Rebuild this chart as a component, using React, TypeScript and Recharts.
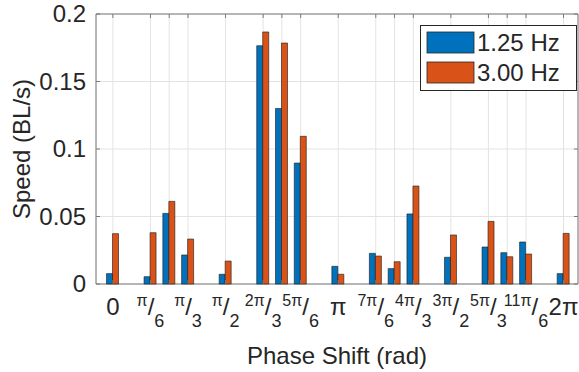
import React from 'react';
import { BarChart, Bar, XAxis, YAxis, CartesianGrid, Legend, ReferenceArea } from 'recharts';

// phase shift, in units of pi/12
const phase = [0, 2, 3, 4, 6, 8, 9, 10, 12, 14, 15, 16, 18, 20, 21, 22, 24];
const speed125 = [
  0.0077, 0.0054, 0.0523, 0.0215, 0.0072, 0.1765, 0.13, 0.0896, 0.0131, 0.0227, 0.0114, 0.0519,
  0.0198, 0.0274, 0.0232, 0.0311, 0.0077,
];
const speed300 = [
  0.0373, 0.038, 0.0612, 0.0333, 0.017, 0.1867, 0.1785, 0.1094, 0.0072, 0.0207, 0.0165, 0.0726,
  0.0363, 0.0464, 0.0202, 0.0222, 0.0375,
];

const yTicks = [0, 0.05, 0.1, 0.15, 0.2];
const yTickLabels = ['0', '0.05', '0.1', '0.15', '0.2'];

// labelled x ticks: numerator / denominator ('' = plain label)
const xLabelPos = [0, 2, 4, 6, 8, 10, 12, 14, 16, 18, 20, 22, 24];
const xLabelNum = ['0', 'π', 'π', 'π', '2π', '5π', 'π', '7π', '4π', '3π', '5π', '11π', '2π'];
const xLabelDen = ['', '6', '3', '2', '3', '6', '', '6', '3', '2', '3', '6', ''];

const data = phase.map((p, i) => ({ phase: p, f125: speed125[i], f300: speed300[i] }));

const FONT = '"Liberation Sans", Arial, Helvetica, sans-serif';
const TEXT = '#262626';
const FRAME = '#7a7a7a';
const PLOT_LEFT = 96;
const PLOT_RIGHT = 578;
const PLOT_TOP = 14;
const PLOT_BOTTOM = 284;

const XTick = (props: any) => {
  const { x, payload } = props;
  const idx = xLabelPos.indexOf(payload.value);
  let label = null;
  if (idx >= 0) {
    label =
      xLabelDen[idx] === '' ? (
        <text x={x} y={315} textAnchor='middle' fontSize={24} fill={TEXT}>
          {xLabelNum[idx]}
        </text>
      ) : (
        <text x={x} y={315} textAnchor='middle' fill={TEXT}>
          <tspan fontSize={16} dy={-9}>
            {xLabelNum[idx]}
          </tspan>
          <tspan fontSize={24} dy={9}>
            /
          </tspan>
          <tspan fontSize={18} dy={12}>
            {xLabelDen[idx]}
          </tspan>
        </text>
      );
  }
  return (
    <g>
      <line x1={x} x2={x} y1={PLOT_BOTTOM} y2={PLOT_BOTTOM - 4} stroke={FRAME} />
      <line x1={x} x2={x} y1={PLOT_TOP} y2={PLOT_TOP + 4} stroke={FRAME} />
      {label}
    </g>
  );
};

const YTick = (props: any) => {
  const { y, payload } = props;
  const i = yTicks.indexOf(payload.value);
  return (
    <g>
      <line x1={PLOT_LEFT} x2={PLOT_LEFT + 4} y1={y} y2={y} stroke={FRAME} />
      <line x1={PLOT_RIGHT} x2={PLOT_RIGHT - 4} y1={y} y2={y} stroke={FRAME} />
      <text x={86} y={y} dy={8} textAnchor='end' fontSize={24} fill={TEXT}>
        {yTickLabels[i]}
      </text>
    </g>
  );
};

const xAxisLabel = (props: any) => {
  const { viewBox } = props;
  return (
    <text x={viewBox.x + viewBox.width / 2} y={364} textAnchor='middle' fontSize={24} fill={TEXT}>
      Phase Shift (rad)
    </text>
  );
};

const yAxisLabel = (props: any) => {
  const { viewBox } = props;
  const cy = viewBox.y + viewBox.height / 2;
  return (
    <text
      x={30}
      y={cy}
      textAnchor='middle'
      fontSize={24}
      fill={TEXT}
      transform={`rotate(-90, 30, ${cy})`}
    >
      Speed (BL/s)
    </text>
  );
};

const renderLegend = (props: any) => {
  const { payload } = props;
  return (
    <svg width={157} height={66} style={{ display: 'block', fontFamily: FONT }}>
      <rect x={0.5} y={0.5} width={156} height={65} fill='#fff' stroke={TEXT} />
      {payload.map((entry: any, i: number) => (
        <g key={entry.value}>
          <rect x={7} y={7 + i * 30} width={47} height={21} fill={entry.color} stroke={TEXT} strokeWidth={0.8} />
          <text x={57} y={26 + i * 30} fontSize={24} fill={TEXT}>
            {entry.value}
          </text>
        </g>
      ))}
    </svg>
  );
};

export default function App() {
  return (
    <div style={{ position: 'absolute', left: 0, top: 0, fontFamily: FONT, background: '#fff' }}>
      <BarChart
        width={579}
        height={372}
        data={data}
        margin={{ top: PLOT_TOP, right: 579 - PLOT_RIGHT, bottom: 0, left: 0 }}
        barGap={0}
      >
        <CartesianGrid stroke='#e3e3e3' />
        <XAxis
          dataKey='phase'
          type='number'
          domain={[-0.9, 24.77]}
          ticks={phase}
          interval={0}
          allowDataOverflow
          height={372 - PLOT_BOTTOM}
          tick={XTick}
          tickLine={false}
          axisLine={false}
          label={xAxisLabel}
        />
        <YAxis
          type='number'
          domain={[0, 0.2]}
          ticks={yTicks}
          interval={0}
          width={PLOT_LEFT}
          tick={YTick}
          tickLine={false}
          axisLine={false}
          label={yAxisLabel}
        />
        <ReferenceArea x1={-0.9} x2={24.77} y1={0} y2={0.2} fill='none' stroke={FRAME} />
        <Legend
          layout='vertical'
          align='center'
          verticalAlign='middle'
          wrapperStyle={{ left: 420, top: 25, width: 157, height: 66 }}
          content={renderLegend}
        />
        <Bar dataKey='f125' name='1.25 Hz' fill='#0072BD' stroke='#1a1a1a' strokeWidth={0.6} barSize={6} isAnimationActive={false} />
        <Bar dataKey='f300' name='3.00 Hz' fill='#D95319' stroke='#1a1a1a' strokeWidth={0.6} barSize={6} isAnimationActive={false} />
      </BarChart>
    </div>
  );
}
